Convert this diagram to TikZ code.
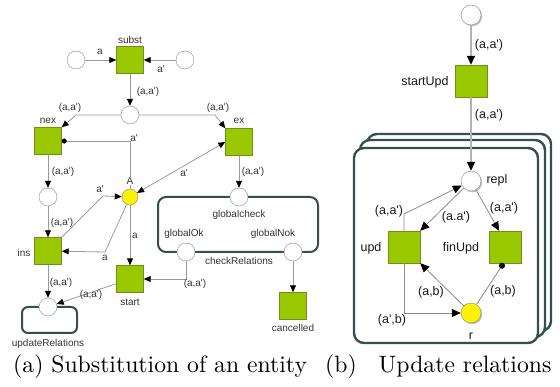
\documentclass[tikz,border=0pt]{standalone}
\usepackage{fontspec}
\newfontfamily\lblfont{Liberation Sans}
\newfontfamily\capfont{lmroman10-regular.otf}
\usetikzlibrary{arrows.meta,shadows}
\definecolor{tgreen}{HTML}{99C800}
\definecolor{tgreenD}{HTML}{6E8F1A}
\definecolor{boxc}{HTML}{33504C}
\definecolor{arcgray}{HTML}{9A9A9A}
\definecolor{arcgrayB}{HTML}{8C8C8C}
\definecolor{placegray}{HTML}{8A8A8A}
\tikzset{
  trans/.style={rectangle, draw=tgreenD, fill=tgreen, minimum size=27pt, inner sep=0pt},
  softshadow/.style={drop shadow={shadow xshift=1.3pt, shadow yshift=-1.3pt, fill=black, opacity=0.25}},
  transB/.style={trans, minimum size=32pt, softshadow},
  place/.style={circle, draw=placegray, fill=white, minimum size=18pt, inner sep=0pt},
  placeB/.style={place, minimum size=20pt, softshadow},
  tok/.style={fill=yellow},
  arcA/.style={draw=arcgray, line width=0.8pt, -{Triangle[length=7pt,width=6pt,color=black]}},
  arcAA/.style={draw=arcgray, line width=0.8pt, {Triangle[length=7pt,width=6pt,color=black]}-{Triangle[length=7pt,width=6pt,color=black]}},
  readA/.style={draw=arcgray, line width=0.8pt, -{Circle[length=5pt,color=black]}},
  arcB/.style={draw=arcgrayB, line width=0.8pt, -{Triangle[length=9pt,width=8pt,color=black]}},
  arcBmain/.style={draw=lightgray!80!gray, line width=1.6pt, -{Triangle[length=9pt,width=8pt,color=black]}},
  readB/.style={draw=arcgrayB, line width=0.8pt, -{Circle[length=6pt,color=black]}},
  la/.style={font=\lblfont\fontsize{10}{12}\selectfont, text=black!80, inner sep=0pt},
  lb/.style={font=\lblfont\fontsize{12.5}{14}\selectfont, text=black!90, inner sep=0pt},
  subnet/.style={draw=boxc, line width=2pt, rounded corners=8pt},
  subnetB/.style={draw=boxc, line width=2.4pt, rounded corners=10pt, fill=white},
  caption/.style={font=\capfont\fontsize{23.7}{28}\selectfont, inner sep=0pt, anchor=base west}
}
\begin{document}
\begin{tikzpicture}[x=1pt,y=-1pt]
\useasboundingbox (0,0) rectangle (560,387);

% ---------- (a) substitution net ----------
% subnet boxes
\draw[subnet] (158,197) rectangle (318,252);
\draw[subnet, rounded corners=6pt] (22,307) rectangle (77,333);

% transitions
\node[trans] (subst) at (130,60) {};
\node[trans] (nex) at (48,141) {};
\node[trans] (ex) at (239,142) {};
\node[trans] (ins) at (48,251) {};
\node[trans] (start) at (130,279) {};
\node[trans] (cancelled) at (293,306) {};

% places
\node[place] (pin) at (76,60) {};
\node[place] (pnew) at (185,60) {};
\node[place] (pc) at (130,115) {};
\node[place] (pn) at (48,197) {};
\node[place, tok, minimum size=16pt] (A) at (130,197) {};
\node[place] (gc) at (239,197) {};
\node[place] (gok) at (186,252) {};
\node[place] (gnok) at (293,252) {};
\node[place] (pu) at (48,307) {};

% bend points
\coordinate (c1) at (76,115);
\coordinate (c2) at (215,115);
\coordinate (c3) at (130,141);
\coordinate (c4) at (103,196);
\coordinate (c5) at (105,252);
\coordinate (c6) at (186,279);

% arcs
\draw[arcA] (pin) -- (subst);
\draw[arcA] (pnew) -- (subst);
\draw[arcA] (subst) -- (pc);
\draw[arcA] (pc) -- (c1) -- (nex.north east);
\draw[arcA] (pc) -- (c2) -- (ex.north west);
\draw[readA] (A) -- (c3) -- (nex);
\draw[arcA] (nex) -- (pn);
\draw[arcA] (pn) -- (ins);
\draw[arcA] (ins.north east) -- (c4) -- (A);
\draw[arcA] (A) -- (c5) -- (ins);
\draw[arcA] (A) -- (start);
\draw[arcAA] (A) -- (ex.west);
\draw[arcA] (ex) -- (gc);
\draw[arcA] (gok) -- (c6) -- (start);
\draw[arcA] (gnok) -- (cancelled);
\draw[arcA] (ins) -- (pu);
\draw[arcA] (start) -- (pu);

% names
\node[la] at (130,40) {subst};
\node[la] at (48,121) {nex};
\node[la] at (239,121) {ex};
\node[la] at (24,253) {ins};
\node[la] at (130,302) {start};
\node[la] at (293,328) {cancelled};
\node[la, fill=white, inner sep=0.5pt] at (130,181) {A};
\node[la] at (239,215) {globalcheck};
\node[la] at (184,234) {globalOk};
\node[la] at (273,234) {globalNok};
\node[la] at (239,261) {checkRelations};
\node[la] at (48,344) {updateRelations};

% inscriptions
\node[la] at (100,52) {a};
\node[la] at (161,69) {a'};
\node[la] at (148,92) {(a,a')};
\node[la] at (70,108) {(a,a')};
\node[la] at (218,108) {(a,a')};
\node[la] at (134,138) {a'};
\node[la] at (63,172) {(a,a')};
\node[la] at (62,223) {(a,a')};
\node[la] at (100,189) {a'};
\node[la] at (105,258) {a};
\node[la] at (135,236) {a};
\node[la] at (184,173) {a'};
\node[la] at (253,172) {(a,a')};
\node[la] at (195,284) {(a,a')};
\node[la] at (61,283) {(a,a')};
\node[la] at (91,295) {(a,a')};

% ---------- (b) update relations net ----------
\draw[subnetB] (367,134) rectangle (551,331);
\draw[subnetB] (360,140) rectangle (545,337);
\draw[subnetB] (354,148) rectangle (538,343);

\node[placeB] (ptop) at (471,15) {};
\node[transB] (su) at (471,81) {};
\node[placeB] (repl) at (471,181) {};
\node[transB] (upd) at (404,247) {};
\node[transB] (fin) at (505,247) {};
\node[placeB, tok] (r) at (471,313) {};

\coordinate (c7) at (404,214);
\coordinate (c8) at (404,313);

\draw[arcBmain] (ptop) -- (su);
\draw[arcBmain] (su) -- (repl);
\draw[arcB] (repl) -- (fin.110);
\draw[arcB] (repl) -- (upd.north east);
\draw[arcB] (upd) -- (c7) -- (repl);
\draw[arcB] (upd) -- (c8) -- (r);
\draw[arcB] (r) -- (upd.south east);
\draw[readB] (r) -- (fin.265);

\node[lb] at (425,82) {startUpd};
\node[lb] at (497,180) {repl};
\node[lb] at (371,248) {upd};
\node[lb] at (461,248) {finUpd};
\node[lb] at (471,336) {r};

\node[lb] at (489,45) {(a,a')};
\node[lb] at (489,115) {(a,a')};
\node[lb] at (504,208) {(a,a')};
\node[lb] at (456,217) {(a.a')};
\node[lb] at (389,211) {(a,a')};
\node[lb] at (431,292) {(a,b)};
\node[lb] at (503,291) {(a,b)};
\node[lb] at (392,320) {(a',b)};

% ---------- captions ----------
\node[caption] at (13,373) {(a) Substitution of an entity};
\node[caption] at (325,373) {(b)\hspace{14pt} Update relations};
\end{tikzpicture}
\end{document}
